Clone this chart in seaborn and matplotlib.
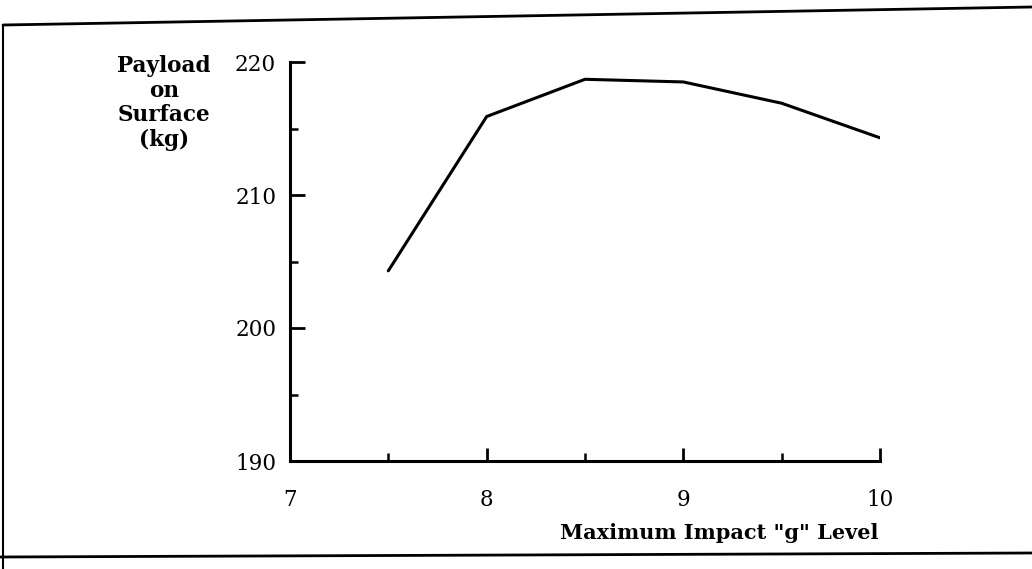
import matplotlib
matplotlib.use("Agg")
import matplotlib.pyplot as plt
from matplotlib.lines import Line2D
import seaborn as sns
import pandas as pd

g_level = [7.5, 8.0, 8.5, 9.0, 9.5, 10.0]
payload = [204.3, 215.9, 218.7, 218.5, 216.9, 214.3]
x_major = [7, 8, 9, 10]
x_minor = [7.5, 8.5, 9.5]
y_major = [190, 200, 210, 220]
y_minor = [195, 205, 215]
y_title = "Payload\non\nSurface\n(kg)"
x_title = 'Maximum Impact "g" Level'

sns.set_style("ticks")
plt.rcParams['font.family'] = ['DejaVu Serif']
plt.rcParams['text.color'] = 'black'

df = pd.DataFrame({"g": g_level, "payload": payload})

W, H = 1032, 569
fig = plt.figure(figsize=(W / 100, H / 100), dpi=100)
ax = fig.add_axes([290 / W, (H - 461) / H, 590 / W, 399 / H])
sns.lineplot(data=df, x="g", y="payload", ax=ax, color="black", linewidth=2.2)

ax.set_xlim(7, 10)
ax.set_ylim(190, 220)
ax.set_xticks(x_major)
ax.set_xticklabels([str(v) for v in x_major])
ax.set_xticks(x_minor, minor=True)
ax.set_yticks(y_major)
ax.set_yticklabels([str(v) for v in y_major])
ax.set_yticks(y_minor, minor=True)
ax.set_xlabel("")
ax.set_ylabel("")

for s in ["top", "right"]:
    ax.spines[s].set_visible(False)
for s in ["left", "bottom"]:
    ax.spines[s].set_linewidth(2.2)
    ax.spines[s].set_color("black")

ax.tick_params(axis="x", which="major", direction="in", length=9.5, width=2, pad=20,
               labelsize=15.5, colors="black")
ax.tick_params(axis="x", which="minor", direction="in", length=6, width=1.8, colors="black")
ax.tick_params(axis="y", which="major", direction="in", length=11, width=2, pad=10,
               labelsize=15.5, colors="black")
ax.tick_params(axis="y", which="minor", direction="in", length=6, width=1.8, colors="black")

fig.text(164 / W, 1 - 55 / H, y_title, ha="center", va="top", fontsize=15.5,
         fontweight="bold", linespacing=1.15, color="black")
fig.text(878 / W, 1 - 533 / H, x_title, ha="right", va="center", fontsize=15,
         fontweight="bold", color="black")

# document frame
fig.add_artist(Line2D([3 / W, 1.0], [1 - 25 / H, 1 - 7 / H], transform=fig.transFigure,
                      color="black", linewidth=2))
fig.add_artist(Line2D([3 / W, 3 / W], [1 - 25 / H, 0], transform=fig.transFigure,
                      color="black", linewidth=1.5))
fig.add_artist(Line2D([0, 1.0], [1 - 557 / H, 1 - 553 / H], transform=fig.transFigure,
                      color="black", linewidth=2))

fig.savefig("out.png", dpi=100, facecolor="white")
